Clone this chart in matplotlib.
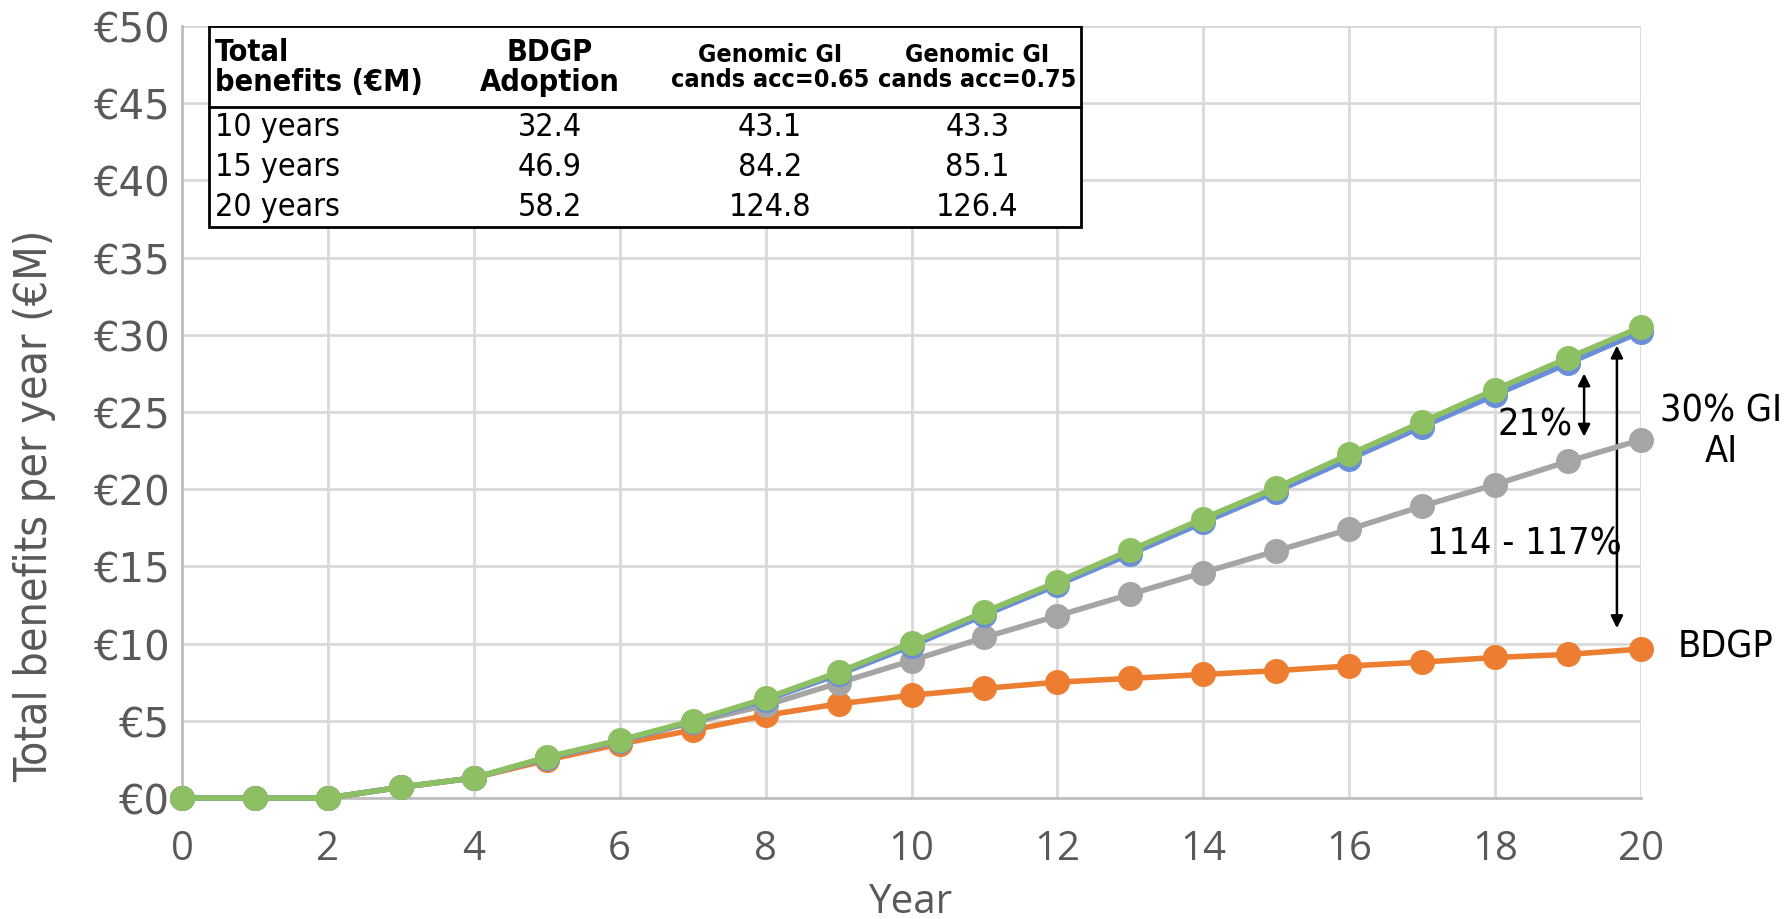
import numpy as np
import matplotlib.pyplot as plt
from matplotlib.patches import Rectangle

years = np.arange(0, 21)

bdgp = [0, 0, 0, 0.7, 1.3, 2.45, 3.5, 4.4, 5.35, 6.1, 6.65, 7.1, 7.5, 7.75, 8.0,
        8.25, 8.55, 8.8, 9.1, 9.3, 9.65]
gi_ai30 = [0, 0, 0, 0.7, 1.3, 2.6, 3.7, 4.9, 6.0, 7.45, 8.9, 10.4, 11.8, 13.2, 14.6,
           16.0, 17.4, 18.9, 20.3, 21.8, 23.2]
gi_065 = [0, 0, 0, 0.7, 1.3, 2.6, 3.7, 4.95, 6.35, 8.0, 9.85, 11.85, 13.8, 15.8, 17.85,
          19.85, 21.95, 24.05, 26.1, 28.15, 30.2]
gi_075 = [0, 0, 0, 0.7, 1.3, 2.65, 3.75, 5.0, 6.45, 8.15, 10.05, 12.05, 14.0, 16.05, 18.1,
          20.1, 22.25, 24.35, 26.45, 28.5, 30.5]

table_header = ['Total\nbenefits (€M)', 'BDGP\nAdoption',
                'Genomic GI\ncands acc=0.65', 'Genomic GI\ncands acc=0.75']
table_rows = ['10 years', '15 years', '20 years']
table_vals = [['32.4', '43.1', '43.3'],
              ['46.9', '84.2', '85.1'],
              ['58.2', '124.8', '126.4']]

narrow = dict(family=['DejaVu Sans'], stretch='condensed')
tick_font = ['Open Sans', 'DejaVu Sans']
grey_txt = '#595959'

fig = plt.figure(figsize=(17.87, 9.2), dpi=100)
ax = fig.add_axes([182 / 1787, 1 - 799 / 920, (1641 - 182) / 1787, (799 - 27) / 920])

ax.set_xlim(0, 20)
ax.set_ylim(0, 50)
ax.set_xticks(np.arange(0, 21, 2))
ax.set_yticks(np.arange(0, 51, 5))
ax.set_yticklabels(['€%d' % v for v in range(0, 51, 5)])
ax.grid(True, color='#d9d9d9', linewidth=2)
ax.set_axisbelow(True)
for s in ['top', 'right']:
    ax.spines[s].set_visible(False)
ax.spines['left'].set_color('#bfbfbf')
ax.spines['bottom'].set_color('#bfbfbf')
ax.spines['left'].set_linewidth(2)
ax.spines['bottom'].set_linewidth(2)
ax.tick_params(axis='y', length=0, pad=9, labelcolor=grey_txt)
ax.tick_params(axis='x', length=0, pad=22, labelcolor=grey_txt)
for lbl in ax.get_xticklabels():
    lbl.set_fontfamily(tick_font)
    lbl.set_fontsize(29)
for lbl in ax.get_yticklabels():
    lbl.set_fontfamily(['DejaVu Sans'])
    lbl.set_fontsize(29)

ax.set_xlabel('Year', fontsize=29, family=tick_font, color=grey_txt)
ax.xaxis.set_label_coords(0.5, -0.108)
ax.set_ylabel('Total benefits per year (€M)', fontsize=32, color=grey_txt, **narrow)
ax.yaxis.set_label_coords(-0.086, 0.38)

kw = dict(marker='o', markersize=17, linewidth=4, clip_on=False)
ax.plot(years, bdgp, color='#ED7D31', zorder=3, **kw)
ax.plot(years, gi_ai30, color='#A5A5A5', zorder=4, **kw)
ax.plot(years, gi_065, color='#6A8ED8', zorder=5, **kw)
ax.plot(years, gi_075, color='#8DC063', zorder=6, **kw)

# arrows and annotations
ax.annotate('', xy=(19.22, 23.4), xytext=(19.22, 27.5),
            arrowprops=dict(arrowstyle='<|-|>', color='black', lw=1.8, mutation_scale=18,
                            shrinkA=0, shrinkB=0))
ax.annotate('', xy=(19.67, 11.0), xytext=(19.67, 29.3),
            arrowprops=dict(arrowstyle='<|-|>', color='black', lw=1.8, mutation_scale=18,
                            shrinkA=0, shrinkB=0))
ax.text(18.55, 24.2, '21%', fontsize=27, ha='center', va='center', **narrow)
ax.text(18.4, 16.5, '114 - 117%', fontsize=27, ha='center', va='center', **narrow)
ax.text(21.1, 23.8, '30% GI\nAI', fontsize=27, ha='center', va='center',
        linespacing=1.15, clip_on=False, **narrow)
ax.text(20.5, 9.8, 'BDGP', fontsize=27, ha='left', va='center',
        clip_on=False, **narrow)

# summary table in the upper left corner
tx0, tx1 = 0.0185, 0.616
ty0, ty1 = 0.74, 1.0
ax.add_patch(Rectangle((tx0, ty0), tx1 - tx0, ty1 - ty0, transform=ax.transAxes,
                       facecolor='white', edgecolor='black', lw=2, zorder=10))
hdr_bottom = 1 - (108 - 27) / 772
ax.plot([tx0, tx1], [hdr_bottom, hdr_bottom], transform=ax.transAxes,
        color='black', lw=2, zorder=11)
col_x = [tx0 + 0.004, 0.252, 0.403, 0.545]
col_ha = ['left', 'center', 'center', 'center']
hdr_size = [22, 22, 18, 18]
for i, h in enumerate(table_header):
    ax.text(col_x[i], (1 + hdr_bottom) / 2, h,
            transform=ax.transAxes, ha=col_ha[i], va='center',
            fontsize=hdr_size[i], fontweight='bold',
            linespacing=1.05, zorder=12, **narrow)
row_h = (hdr_bottom - ty0) / 3
for r, name in enumerate(table_rows):
    yc = hdr_bottom - row_h * (r + 0.5)
    ax.text(col_x[0], yc, name, transform=ax.transAxes, ha='left', va='center',
            fontsize=23, zorder=12, **narrow)
    for c, v in enumerate(table_vals[r]):
        ax.text(col_x[c + 1], yc, v, transform=ax.transAxes, ha='center',
                va='center', fontsize=23, zorder=12, **narrow)

fig.savefig('out.png', dpi=100)
